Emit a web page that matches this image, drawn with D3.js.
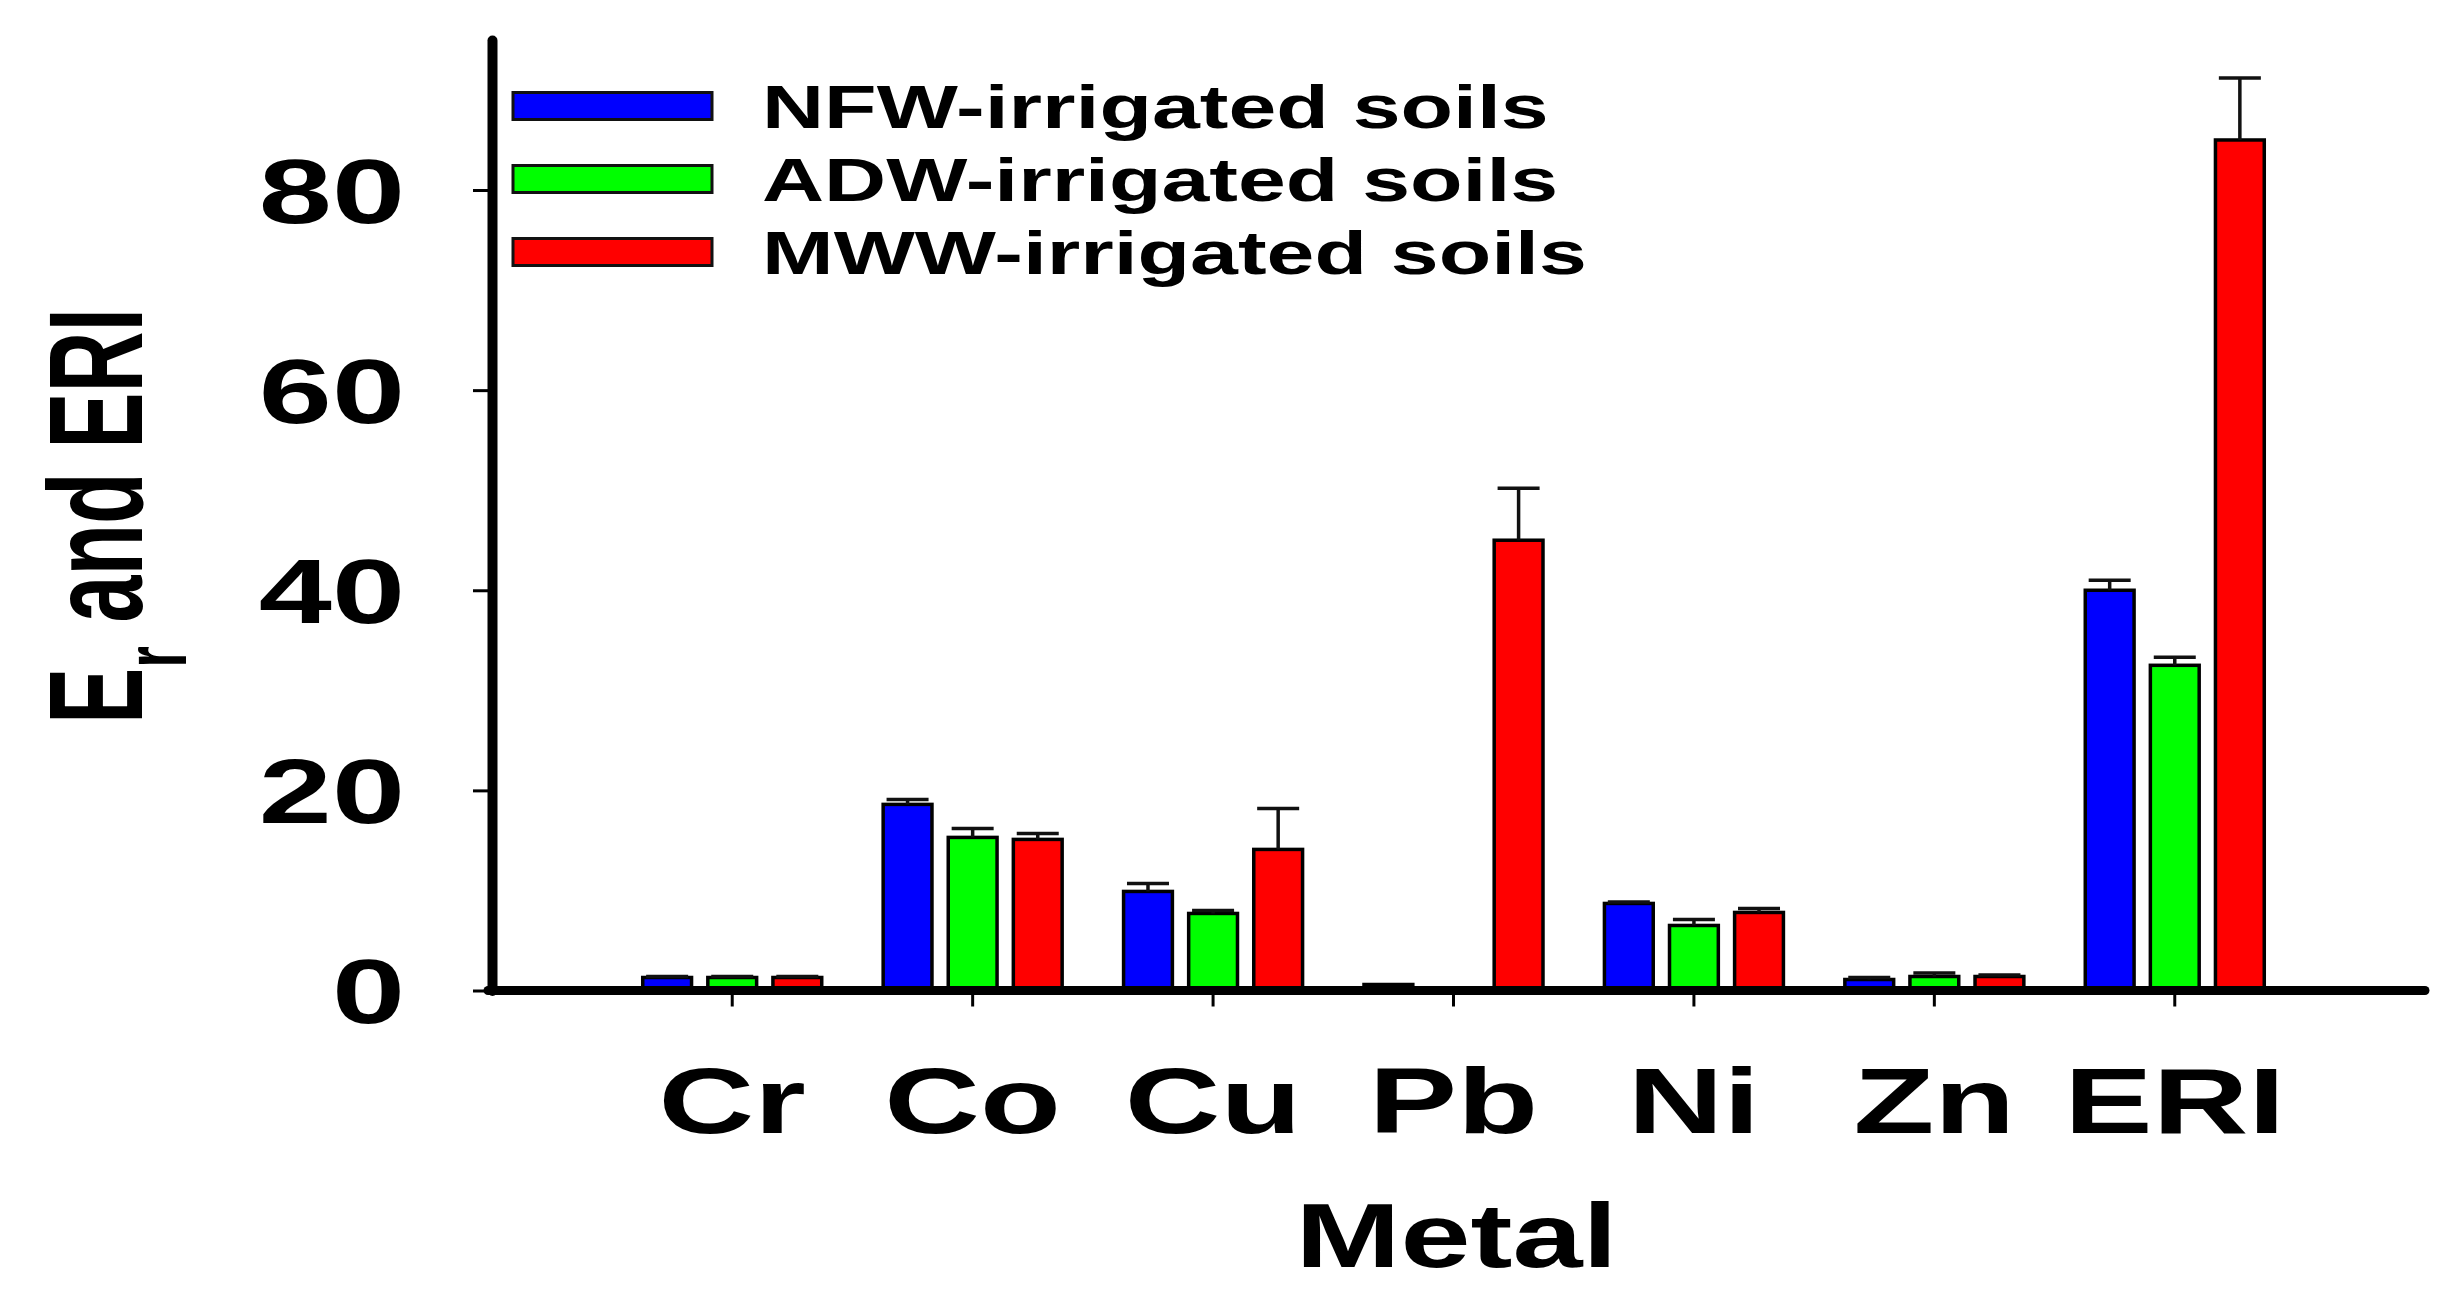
<!DOCTYPE html>
<html>
<head>
<meta charset="utf-8">
<script src="https://cdn.jsdelivr.net/npm/d3@7"></script>
<style>
  body { margin: 0; background: #fff; }
  text { font-family: "Liberation Sans", Arial, sans-serif; font-weight: bold; fill: #000; }
</style>
</head>
<body>
<div id="chart"></div>
<script>
// data
var metals = ["Cr", "Co", "Cu", "Pb", "Ni", "Zn", "ERI"]
var seriesNames = ["NFW-irrigated soils", "ADW-irrigated soils", "MWW-irrigated soils"]
var seriesColors = ["#0000ff", "#00ff00", "#ff0000"]
var nfwMean = [1.3, 18.6, 9.9, 0.6, 8.7, 1.1, 40.0]
var nfwErr  = [0.1, 0.5, 0.8, 0, 0.15, 0.2, 1.0]
var adwMean = [1.3, 15.3, 7.7, 0, 6.5, 1.4, 32.5]
var adwErr  = [0.1, 0.9, 0.3, 0, 0.6, 0.35, 0.8]
var mwwMean = [1.3, 15.1, 14.1, 45.0, 7.8, 1.4, 85.0]
var mwwErr  = [0.1, 0.6, 4.1, 5.2, 0.4, 0.15, 6.2]
var yTicks = [0, 20, 40, 60, 80]

var means = [nfwMean, adwMean, mwwMean]
var errs = [nfwErr, adwErr, mwwErr]

// the figure is stretched sideways, so text gets a horizontal scale
var stretch = 1.46

var width = 2453, height = 1297
var plot = {left: 492, right: 2425, top: 40, bottom: 990.5}

var svg = d3.select("#chart")
  .append("svg")
    .attr("width", width)
    .attr("height", height)
    .style("background", "#fff")

var x = d3.scaleBand()
  .domain(metals)
  .range([plot.left, plot.right])
  .paddingInner(0)
  .paddingOuter(0.52)
  .align(0.48)

var xSub = d3.scaleBand()
  .domain(d3.range(seriesNames.length))
  .range([-89.5, 89.5])
  .paddingInner(0.25)

var y = d3.scaleLinear()
  .domain([0, 95])
  .range([plot.bottom, plot.bottom - 95 * 10.006])

// build one row per bar
var rows = []
metals.forEach(function(m, i) {
  means.forEach(function(s, k) {
    rows.push({metal: m, k: k, v: s[i], e: errs[k][i]})
  })
})

// bars
svg.append("g")
  .selectAll("rect")
  .data(rows.filter(function(d) { return d.v > 0 }))
  .enter().append("rect")
    .attr("x", function(d) { return x(d.metal) + x.bandwidth() / 2 + xSub(d.k) })
    .attr("y", function(d) { return y(d.v) })
    .attr("width", xSub.bandwidth())
    .attr("height", function(d) { return y(0) - y(d.v) })
    .attr("fill", function(d) { return seriesColors[d.k] })
    .attr("stroke", "#000")
    .attr("stroke-width", 3.5)

// error bars (upper half only)
var eb = svg.append("g")
  .selectAll("g")
  .data(rows.filter(function(d) { return d.e > 0 }))
  .enter().append("g")
    .attr("stroke", "#111")
    .attr("stroke-width", 3.5)

eb.append("line")
  .attr("x1", function(d) { return x(d.metal) + x.bandwidth() / 2 + xSub(d.k) + xSub.bandwidth() / 2 })
  .attr("x2", function(d) { return x(d.metal) + x.bandwidth() / 2 + xSub(d.k) + xSub.bandwidth() / 2 })
  .attr("y1", function(d) { return y(d.v) })
  .attr("y2", function(d) { return y(d.v + d.e) })

eb.append("line")
  .attr("x1", function(d) { return x(d.metal) + x.bandwidth() / 2 + xSub(d.k) + xSub.bandwidth() / 2 - 21 })
  .attr("x2", function(d) { return x(d.metal) + x.bandwidth() / 2 + xSub(d.k) + xSub.bandwidth() / 2 + 21 })
  .attr("y1", function(d) { return y(d.v + d.e) })
  .attr("y2", function(d) { return y(d.v + d.e) })

// Y axis
var yAxis = svg.append("g")
  .attr("transform", "translate(" + plot.left + ",0)")
  .call(d3.axisLeft(y).tickValues(yTicks).tickSize(19).tickSizeOuter(0))

yAxis.select(".domain")
  .attr("stroke-width", 10)
  .attr("stroke-linecap", "round")
yAxis.selectAll(".tick line").attr("stroke-width", 3)
yAxis.selectAll(".tick text")
  .attr("x", null)
  .attr("dy", "0.36em")
  .attr("text-anchor", "end")
  .attr("transform", "translate(-87,0) scale(" + stretch + ",1)")
  .style("font-size", "90px")
  .style("font-family", "'Liberation Sans', Arial, sans-serif")
  .style("font-weight", "bold")

// X axis
var xAxis = svg.append("g")
  .attr("transform", "translate(0," + plot.bottom + ")")
  .call(d3.axisBottom(x).tickSize(16).tickSizeOuter(0))

xAxis.select(".domain")
  .attr("d", "M" + (plot.left - 4) + ",0H" + plot.right)
  .attr("stroke-width", 9)
  .attr("stroke-linecap", "round")
xAxis.selectAll(".tick line").attr("stroke-width", 3)
xAxis.selectAll(".tick text")
  .attr("y", null)
  .attr("dy", null)
  .attr("transform", "translate(0,142) scale(" + (stretch - 0.02) + ",1)")
  .style("font-size", "92px")
  .style("font-family", "'Liberation Sans', Arial, sans-serif")
  .style("font-weight", "bold")

// axis titles
svg.append("text")
  .attr("transform", "translate(" + ((plot.left + plot.right) / 2 - 2) + ",1267) scale(1.4,1)")
  .attr("text-anchor", "middle")
  .style("font-size", "90px")
  .text("Metal")

var yTitle = svg.append("text")
  .attr("transform", "translate(142,516) scale(1.52,0.96) rotate(-90)")
  .attr("text-anchor", "middle")
  .style("font-size", "88px")
yTitle.append("tspan").text("E")
yTitle.append("tspan").attr("dy", 29).style("font-size", "58px").text("r")
yTitle.append("tspan").attr("dy", -29).text(" and ERI")

// legend
var legend = svg.append("g")
  .selectAll("g")
  .data(seriesNames)
  .enter().append("g")
    .attr("transform", function(d, i) { return "translate(513," + (106 + i * 73) + ")" })

legend.append("rect")
  .attr("x", 0)
  .attr("y", -13.5)
  .attr("width", 199)
  .attr("height", 27)
  .attr("fill", function(d, i) { return seriesColors[i] })
  .attr("stroke", "#111")
  .attr("stroke-width", 3)

legend.append("text")
  .attr("transform", "translate(249,22) scale(1.41,1)")
  .style("font-size", "61px")
  .text(function(d) { return d })
</script>
</body>
</html>
